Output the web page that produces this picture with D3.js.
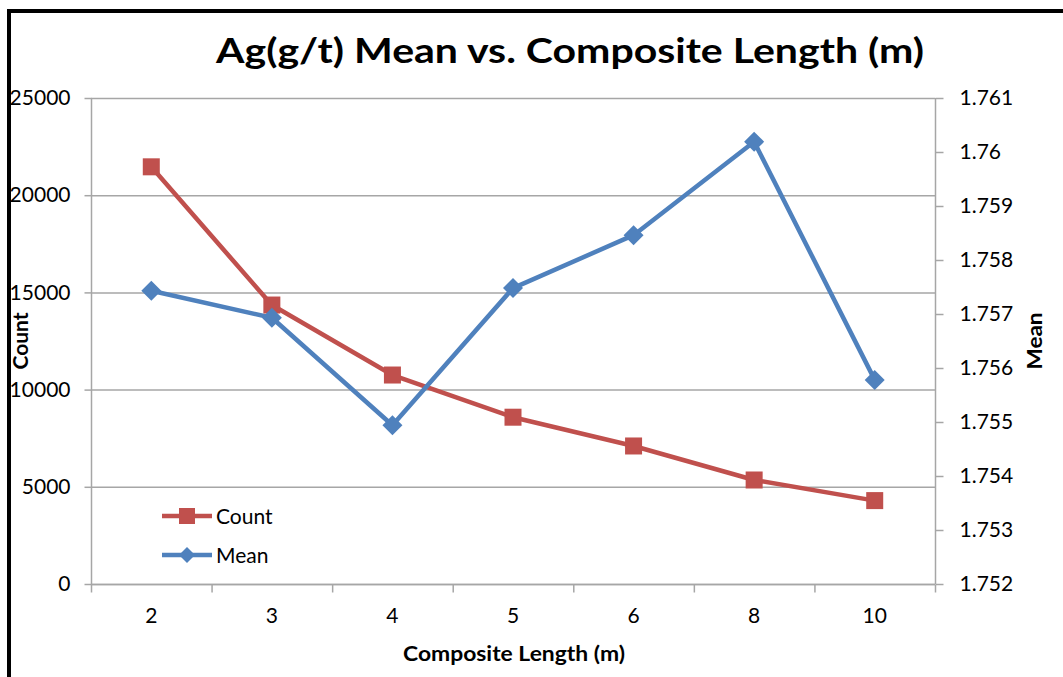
<!DOCTYPE html>
<html>
<head>
<meta charset="utf-8">
<script src="https://cdn.jsdelivr.net/npm/d3@7"></script>
<style>
  html, body { margin: 0; padding: 0; background: #fff; }
  svg { display: block; }
  text { font-family: Lato, "Open Sans", sans-serif; fill: #000; }
</style>
</head>
<body>
<svg id="chart" width="1063" height="677"></svg>
<script>
// Composite lengths (m) used as categories on the x axis
const lengths = ["2", "3", "4", "5", "6", "8", "10"];
// Number of composites per length (left axis)
const countValues = [21460, 14350, 10750, 8580, 7100, 5350, 4290];
// Mean Ag grade (g/t) per length (right axis)
const meanValues = [1.75743, 1.75693, 1.75494, 1.75748, 1.75846, 1.76019, 1.75578];
// Axis tick values
const countTicks = [0, 5000, 10000, 15000, 20000, 25000];
const meanTicks = [1.752, 1.753, 1.754, 1.755, 1.756, 1.757, 1.758, 1.759, 1.76, 1.761];

const RED = "#C0504D", BLUE = "#4F81BD", GRID = "#A6A6A6";

const svg = d3.select("#chart");
const plot = { left: 91, right: 935, top: 98, bottom: 584 };

const x = d3.scaleBand().domain(lengths).range([plot.left, plot.right]);
const yCount = d3.scaleLinear().domain([0, 25000]).range([plot.bottom, plot.top]);
const yMean = d3.scaleLinear().domain([1.752, 1.761]).range([plot.bottom, plot.top]);

// Outer frame (only top and left edges fall inside the canvas)
svg.append("rect")
  .attr("x", 9).attr("y", 11).attr("width", 1100).attr("height", 700)
  .attr("fill", "none").attr("stroke", "#000").attr("stroke-width", 4);

// Horizontal gridlines at the count ticks
svg.append("g").selectAll("line").data(countTicks).join("line")
  .attr("x1", plot.left).attr("x2", plot.right)
  .attr("y1", d => yCount(d) + 0.5).attr("y2", d => yCount(d) + 0.5)
  .attr("stroke", GRID).attr("stroke-width", 1.5);

// Left axis
const leftAxis = svg.append("g").attr("transform", `translate(${plot.left + 0.5},0)`)
  .call(d3.axisLeft(yCount).tickValues(countTicks).tickSize(7).tickPadding(14).tickFormat(d3.format("d")));
// Right axis
const rightAxis = svg.append("g").attr("transform", `translate(${plot.right + 0.5},0)`)
  .call(d3.axisRight(yMean).tickValues(meanTicks).tickSize(8).tickPadding(16).tickFormat(d => String(+d.toFixed(3))));
// Bottom axis: ticks sit on band boundaries, labels at band centres
const bottomAxis = svg.append("g").attr("transform", `translate(0,${plot.bottom + 0.5})`)
  .call(d3.axisBottom(x).tickSize(0).tickPadding(24));
const boundaries = lengths.map(d => x(d)).concat([plot.right]);
bottomAxis.selectAll("line.bound").data(boundaries).join("line")
  .attr("class", "bound")
  .attr("x1", d => d + 0.5).attr("x2", d => d + 0.5)
  .attr("y1", 0).attr("y2", 8);

[leftAxis, rightAxis, bottomAxis].forEach(g => {
  g.selectAll("path.domain").attr("stroke", GRID).attr("stroke-width", 1.5);
  g.selectAll("line").attr("stroke", GRID).attr("stroke-width", 1.5);
  g.selectAll("text").attr("font-size", 21).attr("fill", "#1a1a1a")
    .style("font-family", "Lato, sans-serif");
});
leftAxis.select("path.domain").attr("d", `M0,${plot.top}V${plot.bottom}`);
rightAxis.select("path.domain").attr("d", `M0,${plot.top}V${plot.bottom}`);
bottomAxis.select("path.domain").attr("d", `M${plot.left},0H${plot.right}`);

// Series lines
const cx = d => x(d) + x.bandwidth() / 2;
const countLine = d3.line().x((d, i) => cx(lengths[i])).y(d => yCount(d));
const meanLine = d3.line().x((d, i) => cx(lengths[i])).y(d => yMean(d));

svg.append("path").datum(countValues).attr("d", countLine)
  .attr("fill", "none").attr("stroke", RED).attr("stroke-width", 4.5).attr("stroke-linejoin", "round");
svg.append("path").datum(meanValues).attr("d", meanLine)
  .attr("fill", "none").attr("stroke", BLUE).attr("stroke-width", 4.5).attr("stroke-linejoin", "round");

// Markers
const sq = 17, dm = 10;
svg.append("g").selectAll("rect").data(countValues).join("rect")
  .attr("x", (d, i) => cx(lengths[i]) - sq / 2).attr("y", d => yCount(d) - sq / 2)
  .attr("width", sq).attr("height", sq).attr("fill", RED);
const diamond = (px, py, r) => `M${px},${py - r}L${px + r},${py}L${px},${py + r}L${px - r},${py}Z`;
svg.append("g").selectAll("path").data(meanValues).join("path")
  .attr("d", (d, i) => diamond(cx(lengths[i]), yMean(d), dm)).attr("fill", BLUE);

// Legend
const legend = svg.append("g");
[{ name: "Count", color: RED, shape: "square", y: 516 },
 { name: "Mean", color: BLUE, shape: "diamond", y: 555 }].forEach(item => {
  legend.append("line").attr("x1", 162).attr("x2", 212).attr("y1", item.y).attr("y2", item.y)
    .attr("stroke", item.color).attr("stroke-width", 4.5);
  if (item.shape === "square") {
    legend.append("rect").attr("x", 187 - 8).attr("y", item.y - 8).attr("width", 16).attr("height", 16)
      .attr("fill", item.color);
  } else {
    legend.append("path").attr("d", diamond(187, item.y, 8)).attr("fill", item.color);
  }
  legend.append("text").attr("x", 216).attr("y", item.y + 8).attr("font-size", 21)
    .attr("fill", "#1a1a1a").text(item.name);
});

// Titles
svg.append("text").attr("x", 570).attr("y", 63).attr("text-anchor", "middle")
  .attr("font-size", 35).attr("font-weight", "bold")
  .attr("textLength", 708).attr("lengthAdjust", "spacingAndGlyphs")
  .text("Ag(g/t) Mean vs. Composite Length (m)");
svg.append("text").attr("x", 514).attr("y", 661).attr("text-anchor", "middle")
  .attr("font-size", 21).attr("font-weight", "bold")
  .attr("textLength", 222).attr("lengthAdjust", "spacingAndGlyphs")
  .text("Composite Length (m)");
svg.append("text").attr("transform", "translate(28,341) rotate(-90)").attr("text-anchor", "middle")
  .attr("font-size", 20).attr("font-weight", "bold")
  .attr("textLength", 57).attr("lengthAdjust", "spacingAndGlyphs")
  .text("Count");
svg.append("text").attr("transform", "translate(1042,341) rotate(-90)").attr("text-anchor", "middle")
  .attr("font-size", 20).attr("font-weight", "bold")
  .attr("textLength", 57).attr("lengthAdjust", "spacingAndGlyphs")
  .text("Mean");
</script>
</body>
</html>
